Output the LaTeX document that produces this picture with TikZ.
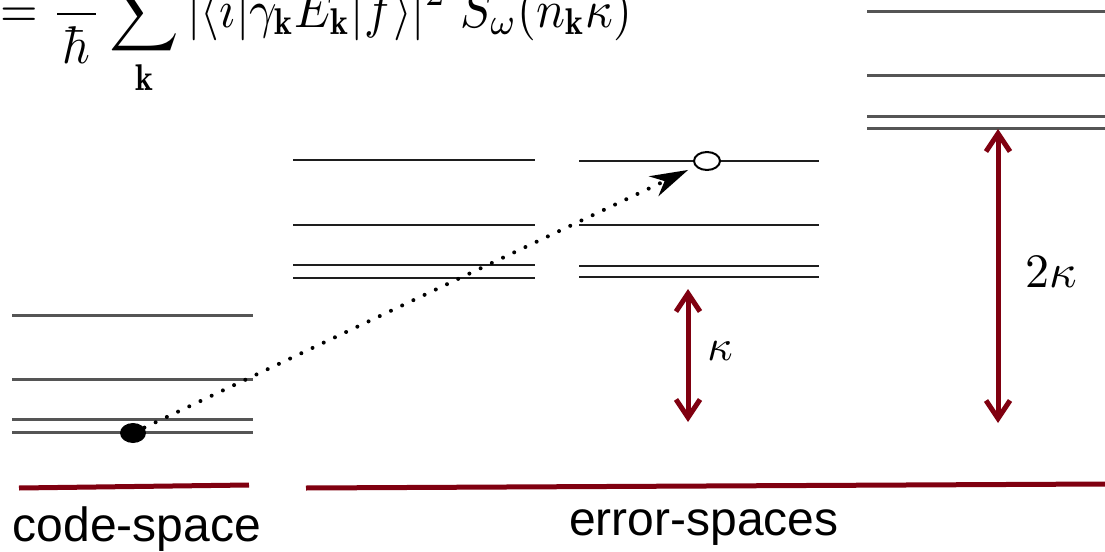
\documentclass[tikz,border=0pt]{standalone}
\usepackage{amsmath}
\usepackage{graphicx}
\usepackage{fontspec}
\setsansfont{Liberation Sans}
\usetikzlibrary{arrows.meta,shapes.geometric}
\definecolor{darkred}{RGB}{128,0,16}
\definecolor{levelgray}{RGB}{85,85,85}
\definecolor{levelblack}{RGB}{30,30,30}
\begin{document}
\begin{tikzpicture}[x=0.5pt,y=-0.5pt,
  lev/.style={line width=1.5pt,draw=levelgray},
  levdark/.style={line width=1.1pt,draw=levelblack},
  spanline/.style={line width=2.5pt,draw=darkred},
  gap/.style={line width=2.5pt,draw=darkred,{Straight Barb[length=9pt,width=12pt]}-{Straight Barb[length=9pt,width=12pt]}},
  lab/.style={font=\fontsize{24}{28}\selectfont\sffamily, inner sep=0},
  jump/.style={line width=2pt, line cap=round, dash pattern=on 0pt off 6.2pt, -{Stealth[length=19pt,width=11pt,inset=6pt]}, shorten >=4pt}
]
\clip (0,0) rectangle (1105,552);
\fill[white] (0,0) rectangle (1105,552);
% formula
\node[anchor=base west, inner sep=0] (eq) at (0,27) {\scalebox{1}[1.1]{\resizebox{316pt}{!}{$\displaystyle =\frac{\hspace*{0.8em}}{\hbar}\sum_{\mathbf{k}}|\langle i|\gamma_{\mathbf{k}}E_{\mathbf{k}}|f\rangle|^2\;S_\omega(n_{\mathbf{k}}\kappa)$}}};
% energy levels
\foreach \y in {315,379,419,432} \draw[lev] (12,\y) -- (253,\y);
\foreach \y in {160,225,265,278} \draw[levdark] (293,\y) -- (535,\y);
\foreach \y in {161,225,266,277} \draw[levdark] (579,\y) -- (819,\y);
\foreach \y in {11,75,116,128} \draw[lev] (867,\y) -- (1105,\y);
% spans
\coordinate (cs1) at (19,488); \coordinate (cs2) at (249,485);
\draw[spanline] (cs1) -- (cs2);
\coordinate (es1) at (306,488); \coordinate (es2) at (1105,484);
\draw[spanline] (es1) -- (es2);
\node[lab, anchor=base] (cslab) at (137,541) {code-space};
\node[lab, anchor=base] (eslab) at (704,535) {error-spaces};
% states
\node[fill=black, ellipse, minimum width=13pt, minimum height=10pt, inner sep=0] (init) at (133,433) {};
\node[draw=black, line width=1pt, fill=white, ellipse, minimum width=13pt, minimum height=9pt, inner sep=0] (final) at (707,161) {};
\draw[jump] (init) -- (final);
% gaps
\coordinate (k1) at (688,289); \coordinate (k2) at (688,422);
\draw[gap] (k1) -- (k2);
\node[inner sep=0] (klab) at (720,351) {\scalebox{2.2}{$\kappa$}};
\coordinate (K1) at (998,129); \coordinate (K2) at (998,423);
\draw[gap] (K1) -- (K2);
\node[inner sep=0] (Klab) at (1051,272) {\scalebox{2.4}{$2\kappa$}};
\end{tikzpicture}
\end{document}
